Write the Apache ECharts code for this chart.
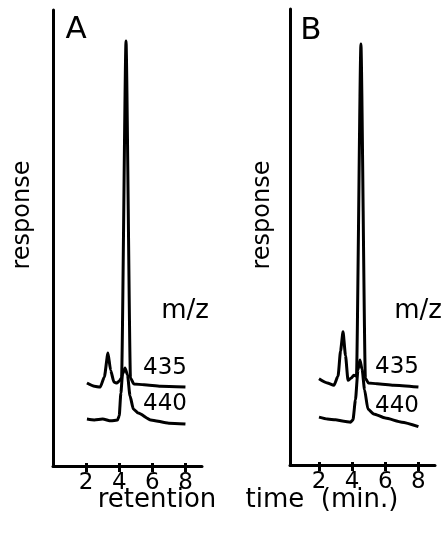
<!DOCTYPE html>
<html><head><meta charset="utf-8">
<script src="https://cdn.jsdelivr.net/npm/echarts@6/dist/echarts.min.js"></script>
<style>html,body{margin:0;padding:0;background:#fff}#c{width:445px;height:533px}</style>
</head><body><div id="c"></div>
<script>
// tick labels
const xTicks = [2, 4, 6, 8];
// Panel A, m/z 435
const tA435 = [2.05, 2.5, 2.85, 3.1, 3.32, 3.48, 3.68, 3.85, 4.0, 4.14, 4.41, 4.68, 4.88, 5.5, 6.5, 8.0];
const rA435 = [18.2, 17.5, 17.3, 19.5, 24.8, 21.0, 18.4, 18.2, 18.6, 19.3, 93.2, 19.3, 18.0, 17.8, 17.5, 17.3];
// Panel A, m/z 440
const tA440 = [2.05, 2.5, 3.0, 3.5, 3.9, 4.0, 4.1, 4.2, 4.35, 4.5, 4.65, 4.85, 5.15, 5.9, 7.0, 8.0];
const rA440 = [10.3, 10.1, 10.3, 9.9, 10.1, 11.0, 16.0, 20.2, 21.5, 20.0, 15.4, 12.5, 11.6, 10.1, 9.4, 9.2];
// Panel B, m/z 435
const tB435 = [2.0, 2.5, 2.9, 3.15, 3.3, 3.45, 3.6, 3.75, 3.95, 4.1, 4.26, 4.53, 4.8, 4.98, 5.5, 6.5, 8.0];
const rB435 = [18.9, 18.0, 17.5, 19.5, 25.0, 29.2, 24.0, 18.6, 19.1, 19.7, 19.5, 92.3, 19.0, 18.0, 17.8, 17.5, 17.1];
// Panel B, m/z 440
const tB440 = [2.0, 2.5, 3.0, 3.5, 3.9, 4.05, 4.2, 4.35, 4.47, 4.6, 4.75, 4.95, 5.3, 6.0, 7.0, 8.0];
const rB440 = [10.5, 10.1, 9.9, 9.6, 9.4, 9.9, 14.3, 20.8, 23.0, 21.0, 16.5, 12.3, 11.2, 10.3, 9.4, 8.4];

const F = 'DejaVu Sans';
const pair = (t, r) => t.map((v, i) => [v, r[i]]);

const chart = echarts.init(document.getElementById('c'), null, {renderer: 'canvas'});

function xAxes(gi, min) {
  return [{
    gridIndex: gi, type: 'value', min: min, max: 9,
    axisLine: {show: true, lineStyle: {color: '#000', width: 3}},
    axisTick: {show: true, length: 6, customValues: xTicks, lineStyle: {color: '#000', width: 3}},
    axisLabel: {show: true, customValues: xTicks, margin: 6, color: '#000', fontSize: 23, fontFamily: F},
    splitLine: {show: false}
  }, {
    gridIndex: gi, type: 'value', min: min, max: 9, position: 'bottom',
    axisLine: {show: false},
    axisTick: {show: true, inside: true, length: 3, customValues: xTicks, lineStyle: {color: '#000', width: 3}},
    axisLabel: {show: false}, splitLine: {show: false}
  }];
}
function yAxis(gi) {
  return {
    gridIndex: gi, type: 'value', min: 0, max: 100,
    axisLine: {show: true, lineStyle: {color: '#000', width: 3}},
    axisTick: {show: false}, axisLabel: {show: false}, splitLine: {show: false}
  };
}
const lineS = {type: 'line', showSymbol: false, smooth: 0.2, smoothMonotone: 'x',
  lineStyle: {color: '#000', width: 3}, animation: false};

function txt(x, y, s, size, rot) {
  return {type: 'text', x: x, y: y, rotation: rot || 0,
    style: {text: s, fill: '#000', fontSize: size, fontFamily: F, align: 'center', verticalAlign: 'middle'}};
}

chart.setOption({
  animation: false,
  backgroundColor: '#fff',
  grid: [
    {left: 53, top: 10, width: 149, height: 456},
    {left: 290, top: 9, width: 145, height: 456}
  ],
  xAxis: [...xAxes(0, 0), ...xAxes(1, 0.25)],
  yAxis: [yAxis(0), yAxis(1)],
  series: [
    Object.assign({name: 'A 435', xAxisIndex: 0, yAxisIndex: 0, data: pair(tA435, rA435)}, lineS),
    Object.assign({name: 'A 440', xAxisIndex: 0, yAxisIndex: 0, data: pair(tA440, rA440)}, lineS),
    Object.assign({name: 'B 435', xAxisIndex: 2, yAxisIndex: 1, data: pair(tB435, rB435)}, lineS),
    Object.assign({name: 'B 440', xAxisIndex: 2, yAxisIndex: 1, data: pair(tB440, rB440)}, lineS)
  ],
  graphic: [
    txt(76, 30, 'A', 31),
    txt(311, 31, 'B', 31),
    txt(23, 215, 'response', 24, Math.PI / 2),
    txt(263, 215, 'response', 24, Math.PI / 2),
    txt(185, 311, 'm/z', 26),
    txt(418, 311, 'm/z', 26),
    txt(165, 368, '435', 23),
    txt(165, 404, '440', 23),
    txt(397, 367, '435', 23),
    txt(397, 406, '440', 23),
    txt(157, 500, 'retention', 26),
    txt(322, 500, 'time  (min.)', 26)
  ]
});
</script></body></html>
